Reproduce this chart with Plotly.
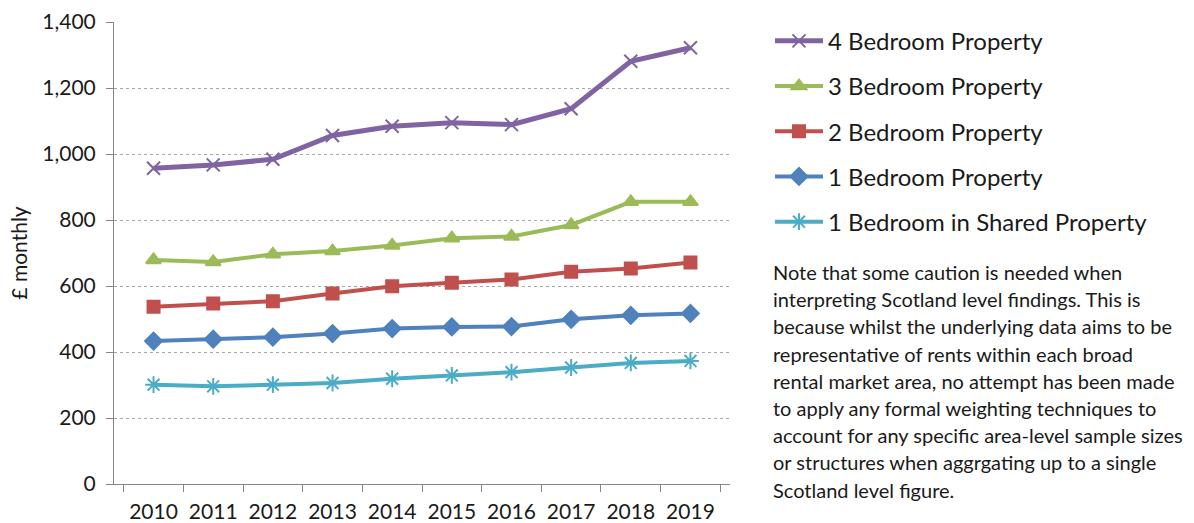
import plotly.graph_objects as go

years = ["2010", "2011", "2012", "2013", "2014", "2015", "2016", "2017", "2018", "2019"]
bed4 = [957, 967, 984, 1056, 1084, 1095, 1089, 1137, 1281, 1322]
bed3 = [679, 673, 696, 706, 723, 745, 750, 785, 855, 855]
bed2 = [537, 547, 554, 577, 599, 610, 620, 643, 653, 671]
bed1 = [433, 439, 445, 456, 471, 476, 477, 499, 511, 517]
shared = [301, 296, 301, 306, 319, 329, 339, 353, 367, 373]

series_names = ["4 Bedroom Property", "3 Bedroom Property", "2 Bedroom Property",
                "1 Bedroom Property", "1 Bedroom in Shared Property"]
y_ticks = [0, 200, 400, 600, 800, 1000, 1200, 1400]
y_ticktext = ["0", "200", "400", "600", "800", "1,000", "1,200", "1,400"]

note_lines = [
    "Note that some caution is needed when",
    "interpreting Scotland level findings. This is",
    "because whilst the underlying data aims to be",
    "representative of rents within each broad",
    "rental market area, no attempt has been made",
    "to apply any formal weighting techniques to",
    "account for any specific area-level sample sizes",
    "or structures when aggrgating up to a single",
    "Scotland level figure.",
]

FONT = "Lato, 'Open Sans', sans-serif"

styles = [
    dict(color="#8064A2", symbol="x-thin-open", size=13, width=5),
    dict(color="#9BBB59", symbol="triangle-up", size=13, width=4),
    dict(color="#C0504D", symbol="square", size=12, width=4),
    dict(color="#4F81BD", symbol="diamond", size=13, width=4),
    dict(color="#4BACC6", symbol="asterisk-open", size=14, width=4),
]
data = [bed4, bed3, bed2, bed1, shared]

fig = go.Figure()
for name, vals, st in zip(series_names, data, styles):
    fig.add_trace(go.Scatter(
        x=years, y=vals, name=name, mode="lines+markers",
        legendgroup=name,
        line=dict(color=st["color"], width=st["width"]),
        marker=dict(symbol=st["symbol"], size=st["size"], color=st["color"],
                    line=dict(color=st["color"], width=2)),
    ))

PL, PR, PT, PB = 114, 730, 22, 484
pw, ph = PR - PL, PB - PT

fig.update_layout(
    width=1194, height=523,
    margin=dict(l=PL, r=1194 - PR, t=PT, b=523 - PB, autoexpand=False),
    paper_bgcolor="white", plot_bgcolor="white",
    font=dict(family=FONT, color="#1a1a1a", size=16),
    showlegend=True,
    legend=dict(x=(770 - PL) / pw, y=1.007, xanchor="left", yanchor="top",
                font=dict(family=FONT, size=24, color="#1a1a1a"),
                tracegroupgap=11, itemwidth=48, bgcolor="rgba(0,0,0,0)"),
    xaxis=dict(type="category", showgrid=False, showline=True, linecolor="#868686",
               linewidth=1, ticks="outside", tickson="boundaries", ticklen=7,
               tickcolor="#868686", tickfont=dict(size=21), ticklabelstandoff=9,
               automargin=False),
    yaxis=dict(range=[0, 1400], tickvals=y_ticks, ticktext=y_ticktext,
               showgrid=True, gridcolor="#A6A6A6", griddash="dot", gridwidth=1,
               showline=True, linecolor="#868686", linewidth=1,
               ticks="outside", ticklen=7, tickcolor="#868686",
               tickfont=dict(size=21), ticklabelstandoff=6, zeroline=False,
               automargin=False,
               title=dict(text="£ monthly", font=dict(size=21), standoff=8)),
)

line_gap = 27.2
first_center = 272
for i, txt in enumerate(note_lines):
    yc = first_center + i * line_gap
    fig.add_annotation(text=txt, xref="paper", yref="paper",
                       x=(771 - PL) / pw, y=(PB - yc) / ph,
                       xanchor="left", yanchor="middle",
                       align="left", showarrow=False,
                       font=dict(family=FONT, size=20, color="#1a1a1a"))

fig.write_html("out.html", config={"displayModeBar": False},
               post_script="document.body.style.margin='0';")
